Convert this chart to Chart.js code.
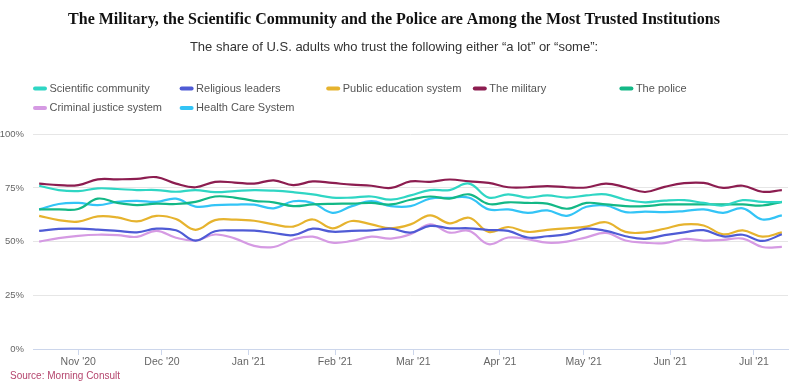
<!DOCTYPE html>
<html>
<head>
<meta charset="utf-8">
<script src="https://cdn.jsdelivr.net/npm/chart.js@4.4.1/dist/chart.umd.min.js"></script>
<style>
  html, body { margin: 0; padding: 0; background: #fff; }
  canvas { display: block; }
</style>
</head>
<body>
<canvas id="trustChart" width="800" height="389"></canvas>
<script>
// weekly survey dates
const weekDates = [
    '2020-10-18', '2020-10-25', '2020-11-01', '2020-11-08', '2020-11-15', '2020-11-22', '2020-11-29',
    '2020-12-06', '2020-12-13', '2020-12-20', '2020-12-27', '2021-01-03', '2021-01-10', '2021-01-17',
    '2021-01-24', '2021-01-31', '2021-02-07', '2021-02-14', '2021-02-21', '2021-02-28', '2021-03-07',
    '2021-03-14', '2021-03-21', '2021-03-28', '2021-04-04', '2021-04-11', '2021-04-18', '2021-04-25',
    '2021-05-02', '2021-05-09', '2021-05-16', '2021-05-23', '2021-05-30', '2021-06-06', '2021-06-13',
    '2021-06-20', '2021-06-27', '2021-07-04', '2021-07-11'
];

const monthStarts = ['2020-11-01', '2020-12-01', '2021-01-01', '2021-02-01', '2021-03-01',
                     '2021-04-01', '2021-05-01', '2021-06-01', '2021-07-01'];
const monthLabels = ["Nov '20", "Dec '20", "Jan '21", "Feb '21", "Mar '21",
                     "Apr '21", "May '21", "Jun '21", "Jul '21"];

const yTicks = [0, 25, 50, 75, 100];

const scientific = [76, 74, 73.5, 74.8, 74.5, 74, 74, 73.2, 74, 73, 73.5, 74, 73.7, 73, 72, 70.5, 70.5, 71, 69.5, 71.5,
                    74, 74, 77, 70.5, 72, 70.5, 71.5, 70.5, 71.5, 72, 69.5, 68.3, 69.1, 69.3, 68, 66.8, 69.3, 68.5, 68.4];
const religious = [55, 55.9, 56, 55.6, 55, 54.3, 56, 55.3, 50.5, 54.8, 55.2, 55.1, 54, 53, 56, 54.6, 55, 55.2, 56, 54.2,
                   57.3, 56.2, 56.2, 55.4, 55, 51.9, 52.5, 53.5, 56, 55, 52.5, 51.3, 53, 54.3, 55.3, 52.4, 53.2, 50.3, 53.4];
const publicEducation = [62, 60, 59.3, 61.7, 61.3, 59.4, 62, 60.5, 55.5, 60, 60.2, 59.7, 58, 57, 60.3, 56.2, 59.6, 58, 56.2, 58,
                         62.2, 58.5, 61.1, 54.5, 56.8, 54.5, 55.5, 56.2, 57, 59, 54.5, 54.3, 56, 58, 57.5, 53.4, 55.2, 52.3, 54.3];
const military = [77, 76.3, 76.3, 79, 79, 79.2, 80, 77, 75.3, 77.8, 77.5, 77, 78.5, 76.3, 78, 77.3, 76.5, 76, 75, 78,
                  77.8, 78.9, 78, 77.3, 75.3, 75.3, 75.8, 75.3, 75.2, 77, 75.3, 73.1, 75.5, 77.2, 77.3, 75, 76, 73.2, 74];
const police = [65, 65, 65.2, 70, 68, 67, 67.7, 67.5, 68.5, 71, 70.5, 69, 68.3, 66.5, 67.3, 67.6, 67.7, 68, 67.3, 69.5,
                71, 70, 72, 67.5, 68.3, 68, 67.7, 65.3, 68, 67.3, 66.5, 66.5, 67.3, 67.3, 67.3, 67.3, 67.3, 66.8, 68.5];
const criminalJustice = [50, 51.6, 52.7, 53.2, 53, 52.2, 55, 51.8, 50.5, 53.3, 51.5, 48, 47.5, 51, 52.3, 49.5, 50.3, 52.3, 51.4, 53.4,
                         58, 54.2, 55, 48.8, 51.9, 51.1, 49.5, 50, 52, 54, 50.5, 49.5, 49.3, 51.2, 50.5, 50.8, 51.4, 47.5, 47.5];
const healthCare = [65, 67.5, 68, 67, 68.5, 69, 68.5, 70, 66.3, 67, 67.2, 67.2, 65.5, 68.8, 68, 63.4, 66.5, 68.8, 66.5, 66.5,
                    70, 70.4, 70.4, 65, 65, 63.4, 64.5, 62, 66.2, 66.8, 63.7, 64, 63.7, 64.2, 65, 63.4, 65.5, 60.3, 62.2];

const sourceText = 'Source: Morning Consult';

function dayOf(s) {
    const [y, m, d] = s.split('-').map(Number);
    return (Date.UTC(y, m - 1, d) - Date.UTC(2020, 9, 1)) / 864e5;
}

const days = weekDates.map(dayOf);
const toPoints = values => values.map((v, i) => ({x: days[i], y: v}));

const series = [
    {label: 'Scientific community', data: scientific, color: '#2fd6c4'},
    {label: 'Religious leaders', data: religious, color: '#4f5bd5'},
    {label: 'Public education system', data: publicEducation, color: '#e6b32e'},
    {label: 'The military', data: military, color: '#8c1d50'},
    {label: 'The police', data: police, color: '#13b886'},
    {label: 'Criminal justice system', data: criminalJustice, color: '#d59ae3'},
    {label: 'Health Care System', data: healthCare, color: '#33c4f6'}
];

// legend in fixed columns like the original, plus the source line
const notesPlugin = {
    id: 'notes',
    afterDraw(chart) {
        const ctx = chart.ctx;
        ctx.save();
        ctx.font = '11px "Liberation Sans", Arial, sans-serif';
        ctx.textBaseline = 'middle';
        chart.data.datasets.forEach((ds, i) => {
            const x = 33 + (i % 5) * 146.6;
            const y = 88.5 + Math.floor(i / 5) * 19.5;
            ctx.fillStyle = ds.borderColor;
            ctx.beginPath();
            ctx.roundRect(x, y - 2, 14, 4, 2);
            ctx.fill();
            ctx.fillStyle = '#555';
            ctx.fillText(ds.label, x + 16.5, y);
        });
        ctx.font = '10px "Liberation Sans", Arial, sans-serif';
        ctx.fillStyle = '#b5466e';
        ctx.fillText(sourceText, 10, 376);
        ctx.restore();
    }
};

const ctx = document.getElementById('trustChart').getContext('2d');
window.trustChart = new Chart(ctx, {
    type: 'line',
    data: {
        datasets: series.map(s => ({
            label: s.label,
            data: toPoints(s.data),
            borderColor: s.color,
            backgroundColor: s.color,
            borderWidth: 2.2,
            tension: 0.4,
            pointRadius: 0,
            fill: false
        }))
    },
    options: {
        responsive: false,
        animation: false,
        devicePixelRatio: 1,
        layout: {
            padding: {left: 0, right: 12, top: 0, bottom: 0}
        },
        plugins: {
            legend: {display: false},
            tooltip: {enabled: false},
            title: {
                display: true,
                text: 'The Military, the Scientific Community and the Police are Among the Most Trusted Institutions',
                color: '#111',
                font: {family: '"Liberation Serif", "Times New Roman", serif', size: 16, weight: 'bold'},
                padding: {top: 10, bottom: 8}
            },
            subtitle: {
                display: true,
                text: 'The share of U.S. adults who trust the following either \u201ca lot\u201d or \u201csome\u201d:',
                color: '#333',
                font: {family: '"Liberation Sans", Arial, sans-serif', size: 13},
                padding: {top: 2, bottom: 79.4}
            }
        },
        scales: {
            x: {
                type: 'linear',
                min: days[0] - 2.2,
                max: days[days.length - 1] + 2.2,
                afterBuildTicks: scale => {
                    scale.ticks = monthStarts.map(s => ({value: dayOf(s)}));
                },
                afterFit: scale => { scale.height = 40; },
                ticks: {
                    autoSkip: false,
                    maxRotation: 0,
                    padding: 1,
                    color: '#666',
                    font: {family: '"Liberation Sans", Arial, sans-serif', size: 10.5},
                    callback: (value, index) => monthLabels[index]
                },
                grid: {
                    drawOnChartArea: false,
                    drawTicks: true,
                    tickLength: 6,
                    tickColor: '#ccd6eb'
                },
                border: {color: '#ccd6eb', width: 1}
            },
            y: {
                min: yTicks[0],
                max: yTicks[yTicks.length - 1],
                afterBuildTicks: scale => {
                    scale.ticks = yTicks.map(v => ({value: v}));
                },
                afterFit: scale => { scale.width = 33; },
                ticks: {
                    padding: 9,
                    color: '#666',
                    font: {family: '"Liberation Sans", Arial, sans-serif', size: 9.5},
                    callback: v => v + '%'
                },
                grid: {
                    color: '#e6e6e6',
                    drawTicks: false
                },
                border: {display: false}
            }
        }
    },
    plugins: [notesPlugin]
});
</script>
</body>
</html>
